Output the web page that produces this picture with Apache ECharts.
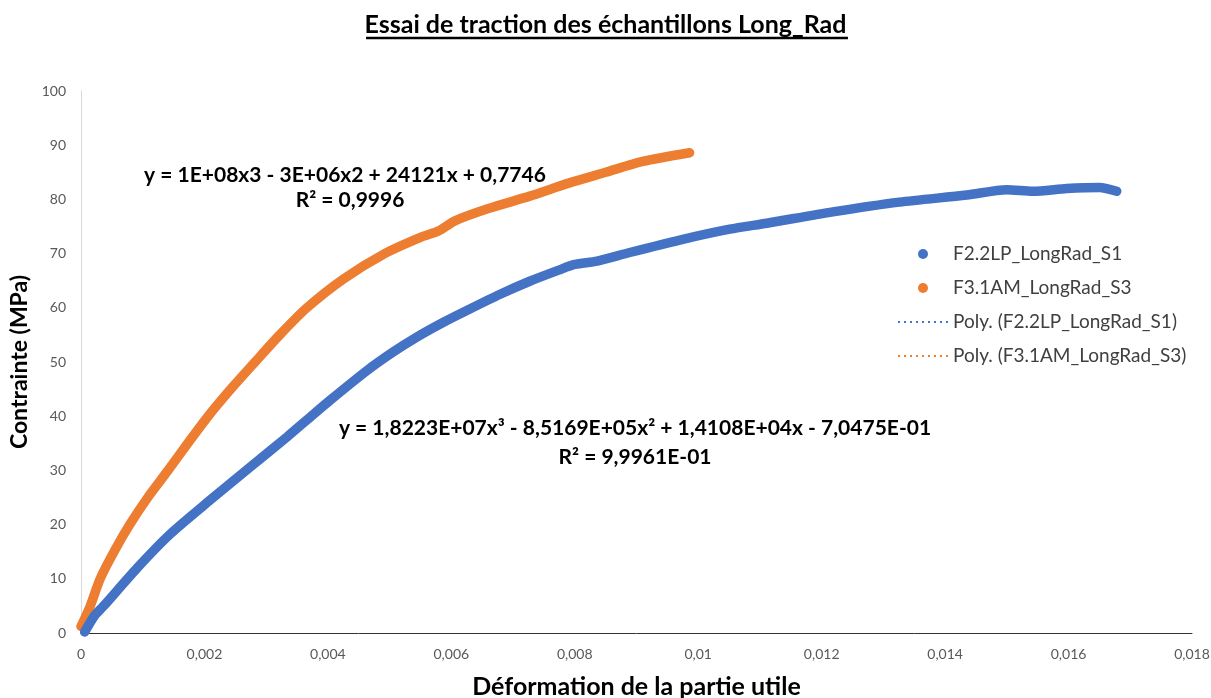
<!DOCTYPE html>
<html>
<head>
<meta charset="utf-8">
<script src="https://cdn.jsdelivr.net/npm/echarts@6/dist/echarts.min.js"></script>
<style>
html,body{margin:0;padding:0;background:#fff;}
#chart{width:1211px;height:698px;}
</style>
</head>
<body>
<div id="chart"></div>
<script>
// ---- data ----
const blueX = [0.00006, 0.00022, 0.00036, 0.00091, 0.00144, 0.00209, 0.00274, 0.00334, 0.00371, 0.00403, 0.00463, 0.00505, 0.00544, 0.00585, 0.00625, 0.00679, 0.00727, 0.00775, 0.0080, 0.00836, 0.00889, 0.0097, 0.01051, 0.01111, 0.01218, 0.01326, 0.01435, 0.015, 0.01542, 0.01597, 0.0165, 0.01678];
const blueY = [0.2, 3.2, 4.9, 12.0, 18.2, 24.5, 30.6, 36.2, 39.8, 42.9, 48.4, 51.8, 54.6, 57.2, 59.5, 62.5, 64.9, 67.0, 68.0, 68.6, 70.2, 72.5, 74.5, 75.6, 77.7, 79.5, 80.8, 81.8, 81.5, 82.0, 82.2, 81.5];
const orangeX = [0.0, 0.00015, 0.00031, 0.00055, 0.00079, 0.0011, 0.00141, 0.00175, 0.00206, 0.00245, 0.00282, 0.00322, 0.00366, 0.00425, 0.00492, 0.0055, 0.0058, 0.00605, 0.0066, 0.00727, 0.0079, 0.0085, 0.0091, 0.00986];
const orangeY = [1.2, 5.0, 10.0, 15.3, 20.0, 25.3, 30.0, 35.3, 40.0, 45.3, 50.0, 55.0, 60.0, 65.3, 70.0, 73.0, 74.2, 76.0, 78.3, 80.6, 83.0, 85.0, 87.0, 88.6];
const seriesNames = ['F2.2LP_LongRad_S1', 'F3.1AM_LongRad_S3', 'Poly. (F2.2LP_LongRad_S1)', 'Poly. (F3.1AM_LongRad_S3)'];
const eq1 = ['y = 1E+08x3 - 3E+06x2 + 24121x + 0,7746', 'R² = 0,9996'];
const eq2 = ['y = 1,8223E+07x³ - 8,5169E+05x² + 1,4108E+04x - 7,0475E-01', 'R² = 9,9961E-01'];
const titleText = 'Essai de traction des échantillons Long_Rad';
const xName = 'Déformation de la partie utile';
const yName = 'Contrainte (MPa)';

const BLUE = '#4472C4', ORANGE = '#ED7D31';
const FONT = 'Lato, "Open Sans", "Noto Sans", sans-serif';

function pairs(xs, ys){ return xs.map((x,i)=>[x, ys[i]]); }
const blueData = pairs(blueX, blueY);
const orangeData = pairs(orangeX, orangeY);

// dotted legend icon
let dots = '';
for (let i = 0; i < 9; i++) dots += 'M' + (i*6) + ' 0h2v2h-2z';
const dotIcon = 'path://' + dots;

// title underline width
const cv = document.createElement('canvas').getContext('2d');
const titleFont = 'bold 25px ' + FONT;
cv.font = titleFont;
const tW = cv.measureText(titleText).width;

const chart = echarts.init(document.getElementById('chart'), null, {renderer:'canvas'});
chart.setOption({
  animation: false,
  backgroundColor: '#fff',
  title: {
    text: titleText, left: 'center', top: 7,
    textStyle: {fontFamily: FONT, fontSize: 25, fontWeight: 'bold', color: '#000'}
  },
  grid: {left: 81, right: 19, top: 91, bottom: 65, containLabel: false, outerBoundsMode: 'none'},
  legend: {
    orient: 'vertical', left: 898, top: 242, padding: 0,
    itemWidth: 50, itemHeight: 10, itemGap: 10,
    textStyle: {fontFamily: FONT, fontSize: 19, lineHeight: 24, color: '#404040'},
    data: [
      {name: seriesNames[0], icon: 'circle'},
      {name: seriesNames[1], icon: 'circle'},
      {name: seriesNames[2], icon: dotIcon},
      {name: seriesNames[3], icon: dotIcon}
    ]
  },
  xAxis: {
    type: 'value', min: 0, max: 0.018, interval: 0.002,
    name: xName, nameLocation: 'middle', nameGap: 41,
    nameTextStyle: {fontFamily: FONT, fontSize: 25, fontWeight: 'bold', color: '#000'},
    axisLine: {show: true, lineStyle: {color: '#333', width: 1}},
    axisTick: {show: false}, splitLine: {show: false},
    axisLabel: {fontFamily: FONT, fontSize: 14, color: '#595959', margin: 14,
      formatter: v => v === 0 ? '0' : String(+v.toFixed(3)).replace('.', ',')}
  },
  yAxis: {
    type: 'value', min: 0, max: 100, interval: 10,
    name: yName, nameLocation: 'middle', nameGap: 45, nameRotate: 90,
    nameTextStyle: {fontFamily: FONT, fontSize: 23, fontWeight: 'bold', color: '#000'},
    axisLine: {show: true, lineStyle: {color: '#d9d9d9', width: 1}},
    axisTick: {show: false}, splitLine: {show: false},
    axisLabel: {fontFamily: FONT, fontSize: 14, color: '#595959', margin: 15}
  },
  series: [
    {name: seriesNames[2], type: 'line', data: blueData, symbol: 'none', smooth: 0.25, z: 1,
     itemStyle: {color: BLUE}, lineStyle: {color: BLUE, width: 2, type: 'dotted'}},
    {name: seriesNames[3], type: 'line', data: orangeData, symbol: 'none', smooth: 0.25, z: 1,
     itemStyle: {color: ORANGE}, lineStyle: {color: ORANGE, width: 2, type: 'dotted'}},
    {name: seriesNames[0], type: 'line', data: blueData, symbol: 'none', smooth: 0.25, z: 3,
     itemStyle: {color: BLUE}, lineStyle: {color: BLUE, width: 9.5, cap: 'round', join: 'round'}},
    {name: seriesNames[1], type: 'line', data: orangeData, symbol: 'none', smooth: 0.25, z: 2,
     itemStyle: {color: ORANGE}, lineStyle: {color: ORANGE, width: 9.5, cap: 'round', join: 'round'}}
  ],
  graphic: [
    {type: 'line', shape: {x1: 607 - tW/2, y1: 38, x2: 607 + tW/2, y2: 38}, style: {stroke: '#000', lineWidth: 2.5}},
    {type: 'text', style: {text: eq1[0], x: 345, y: 175, textAlign: 'center', textVerticalAlign: 'middle', font: 'bold 21px ' + FONT, fill: '#000'}},
    {type: 'text', style: {text: eq1[1], x: 350, y: 200, textAlign: 'center', textVerticalAlign: 'middle', font: 'bold 21px ' + FONT, fill: '#000'}},
    {type: 'text', style: {text: eq2[0], x: 635, y: 428, textAlign: 'center', textVerticalAlign: 'middle', font: 'bold 21px ' + FONT, fill: '#000'}},
    {type: 'text', style: {text: eq2[1], x: 635, y: 457, textAlign: 'center', textVerticalAlign: 'middle', font: 'bold 21px ' + FONT, fill: '#000'}}
  ]
});
</script>
</body>
</html>
